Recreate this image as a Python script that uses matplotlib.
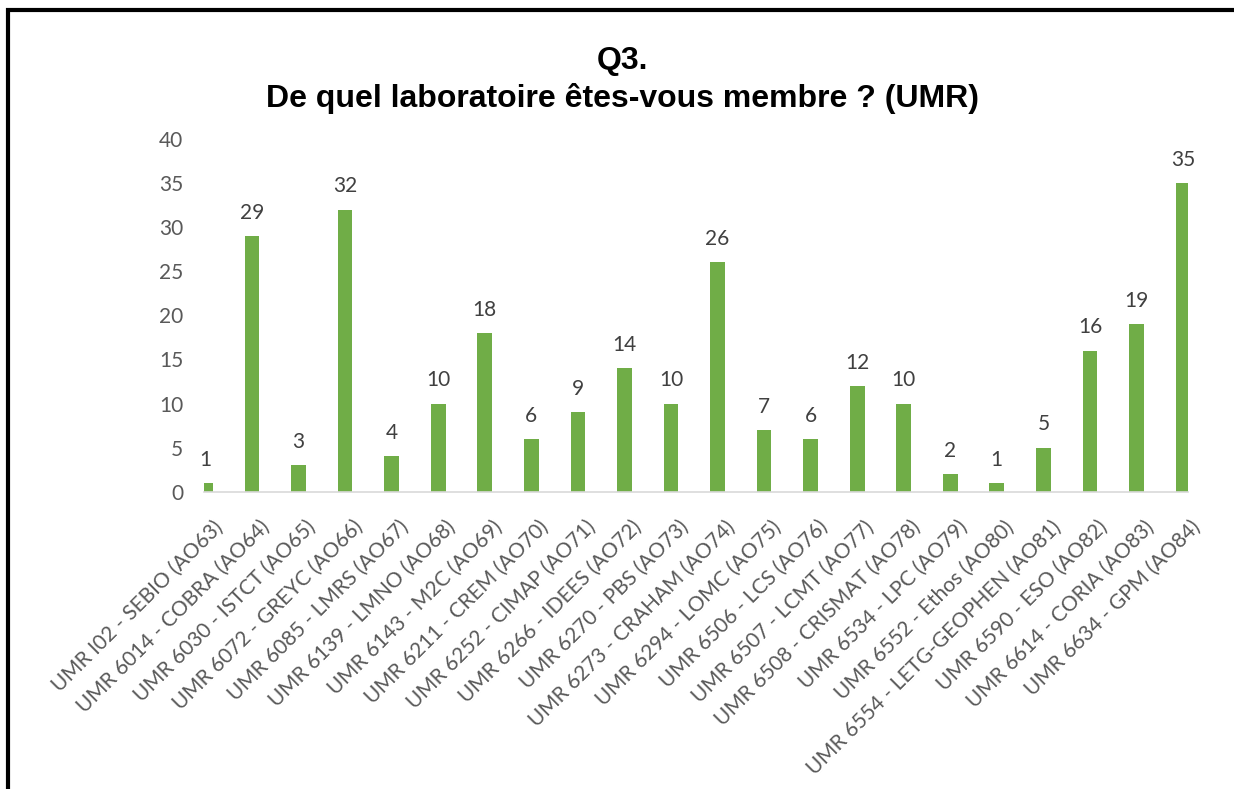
"""
plot.py : Q3 - laboratoire (UMR) des répondants, diagramme en barres.
"""

import matplotlib
matplotlib.use("Agg")
import matplotlib.pyplot as plt
from matplotlib.lines import Line2D
from matplotlib.transforms import ScaledTranslation

labos = [
    "UMR I02 - SEBIO (AO63)",
    "UMR 6014 - COBRA (AO64)",
    "UMR 6030 - ISTCT (AO65)",
    "UMR 6072 - GREYC (AO66)",
    "UMR 6085 - LMRS (AO67)",
    "UMR 6139 - LMNO (AO68)",
    "UMR 6143 - M2C (AO69)",
    "UMR 6211 - CREM (AO70)",
    "UMR 6252 - CIMAP (AO71)",
    "UMR 6266 - IDEES (AO72)",
    "UMR 6270 - PBS (AO73)",
    "UMR 6273 - CRAHAM (AO74)",
    "UMR 6294 - LOMC (AO75)",
    "UMR 6506 - LCS (AO76)",
    "UMR 6507 - LCMT (AO77)",
    "UMR 6508 - CRISMAT (AO78)",
    "UMR 6534 - LPC (AO79)",
    "UMR 6552 - Ethos (AO80)",
    "UMR 6554 - LETG-GEOPHEN (AO81)",
    "UMR 6590 - ESO (AO82)",
    "UMR 6614 - CORIA (AO83)",
    "UMR 6634 - GPM (AO84)",
]
reponses = [1, 29, 3, 32, 4, 10, 18, 6, 9, 14, 10, 26, 7, 6, 12, 10, 2, 1, 5, 16, 19, 35]
y_ticks = [0, 5, 10, 15, 20, 25, 30, 35, 40]

W, H = 1234, 789
fig = plt.figure(figsize=(W / 100, H / 100), dpi=100)
ax = fig.add_axes([204 / W, 1 - 491.7 / H, 984 / W, (491.7 - 139) / H])

x = list(range(len(labos)))
bars = ax.bar(x, reponses, width=0.315, color="#70AD47", zorder=2)
ax.bar_label(bars, padding=9.5, fontsize=15, color="#404040", family="Lato")

ax.set_xlim(-0.032, 21.107)
ax.set_ylim(0, 40)
ax.set_yticks(y_ticks)
ax.set_yticklabels([str(v) for v in y_ticks], fontsize=15, color="#595959", family="Lato")
ax.set_xticks(x)
ax.set_xticklabels(labos, rotation=45, ha="right", va="top", rotation_mode="anchor",
                   fontsize=15, color="#595959", family="Lato")
ax.tick_params(axis="y", length=0, pad=15)
ax.tick_params(axis="x", length=0, pad=18)
# léger décalage à droite des étiquettes inclinées
shift = ScaledTranslation(7 / 100, 0, fig.dpi_scale_trans)
for lab in ax.get_xticklabels():
    lab.set_transform(lab.get_transform() + shift)

for s in ["top", "right", "left"]:
    ax.spines[s].set_visible(False)
ax.spines["bottom"].set_color("#D9D9D9")
ax.spines["bottom"].set_linewidth(1.2)

# titre centré sur la figure
fig.text(622 / W, 1 - 69 / H, "Q3.", ha="center", va="baseline",
         fontsize=23, fontweight="bold", family="Liberation Sans")
fig.text(622 / W, 1 - 107 / H, "De quel laboratoire êtes-vous membre ? (UMR)",
         ha="center", va="baseline", fontsize=23, fontweight="bold", family="Liberation Sans")

# cadre noir (gauche + haut)
fig.add_artist(Line2D([8 / W, 8 / W, 1.0], [0.0, 1 - 10 / H, 1 - 10 / H],
                      transform=fig.transFigure, color="black", linewidth=3,
                      solid_joinstyle="miter"))

fig.savefig("out.png", dpi=100)
